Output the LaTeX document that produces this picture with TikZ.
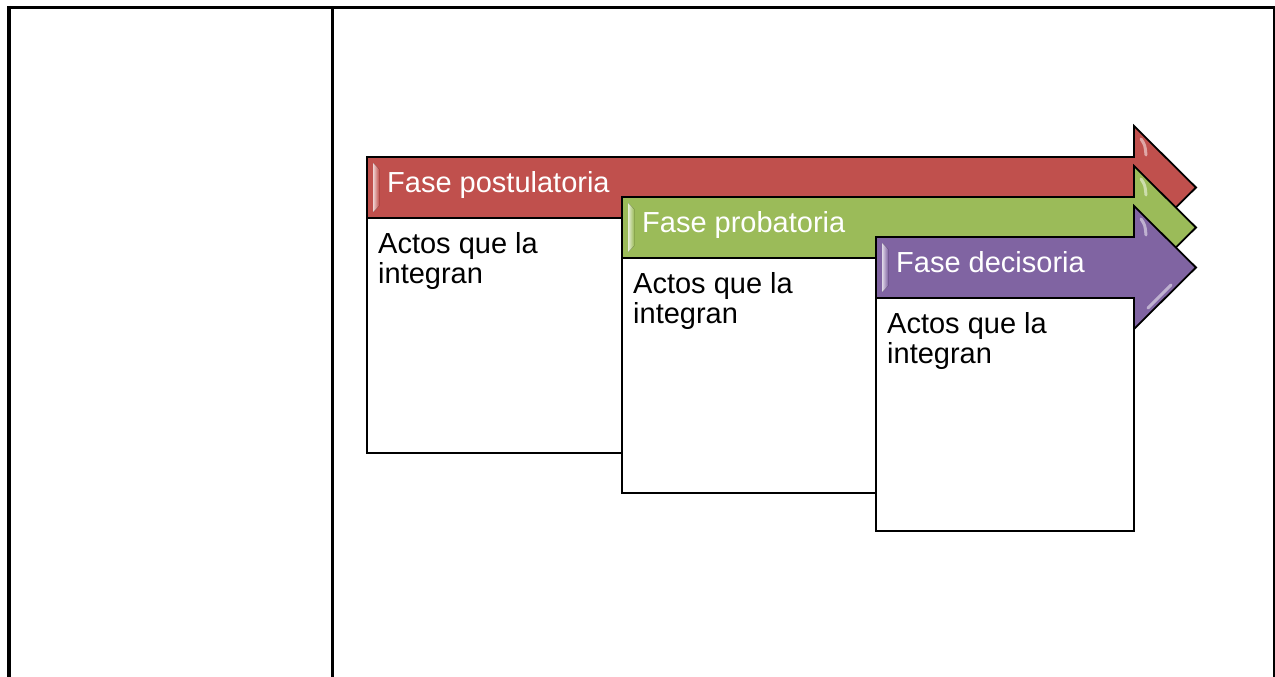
\documentclass[tikz,border=0pt]{standalone}
\usepackage{fontspec}
\setmainfont{Liberation Sans}
\definecolor{redc}{HTML}{C0504D}
\definecolor{greenc}{HTML}{9BBB59}
\definecolor{purc}{HTML}{8064A2}
\begin{document}
\begin{tikzpicture}[x=1pt,y=-1pt,
  tableline/.style={line width=3.3pt},
  arrowfill/.style={fill=#1, draw=black, line width=1.8pt, line join=miter},
  boxline/.style={draw=black, line width=1.8pt},
  phaselabel/.style={inner sep=0pt, text=white, font=\fontsize{29}{30}\selectfont},
  boxtext/.style={inner sep=0pt, text=black, align=left, font=\fontsize{29}{30}\selectfont},
  glint/.style={line width=3pt, line cap=round, draw=white, opacity=0.5}]
\useasboundingbox (0,0) rectangle (1275,677);
\fill[white] (0,0) rectangle (1275,677);
% table borders
\coordinate (tl) at (7.5,7.5);
\coordinate (tr) at (1275,7.5);
\coordinate (bl) at (9,677);
\coordinate (ml) at (332.7,7.5);
\coordinate (mb) at (332.7,677);
\draw[tableline] (tl) -- (tr);
\draw[tableline] (9,6) -- (bl);
\draw[tableline] (ml) -- (mb);
\draw[line width=1.5pt] (1274.2,7.5) -- (1274.2,677);
% phases
\foreach \L/\T/\c/\R/\B/\lab/\nm in {367/157/redc/880/453/{Fase postulatoria}/a, 622/197/greenc/1000/493/{Fase probatoria}/b, 876/237/purc/1134/531/{Fase decisoria}/c}{
  \path[arrowfill=\c] (\L,\T) -- (1134,\T) -- (1134,\T-31) -- (1196,\T+30.5) -- (1134,\T+92) -- (1134,\T+61) -- (\L,\T+61) -- cycle;
  \fill[left color=\c!25!white, right color=\c] (\L+6,\T+6) -- (\L+12,\T+12) -- (\L+12,\T+49) -- (\L+6,\T+55) -- cycle;
  \draw[glint] (1141,\T-18) .. controls (1145,\T-12) .. (1146,\T-2);
  \draw[glint] (1171,\T+48) -- (1148,\T+71);
  \fill[white] (\L+0.9,\T+62) rectangle (\R,\B);
  \draw[boxline] (\L,\T+61) -- (\L,\B) -- (\R,\B) -- (\R,\T+61);
  \node[phaselabel, anchor=base west] (t\nm) at (\L+20,\T+35) {\lab};
  \node[boxtext, anchor=base west] (d\nm) at (\L+11,\T+126) {Actos que la\\integran};
}
\end{tikzpicture}
\end{document}
